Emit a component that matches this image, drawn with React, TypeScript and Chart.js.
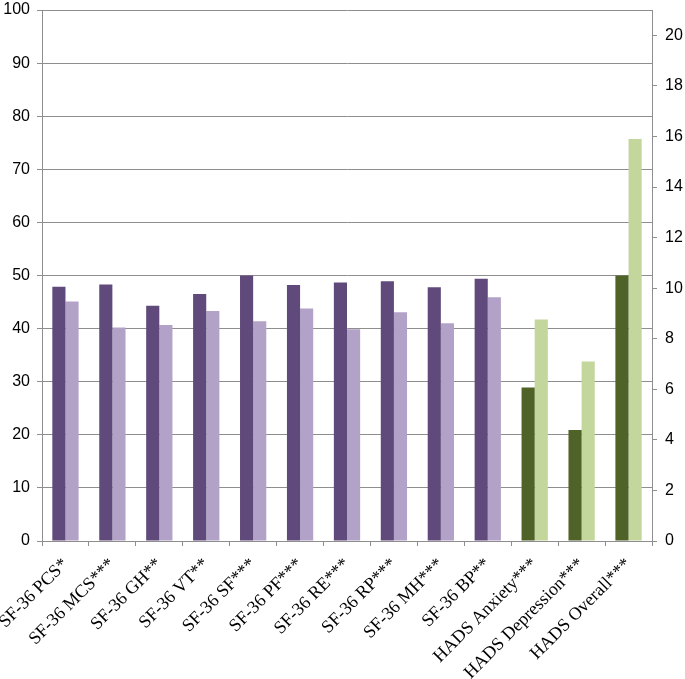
import React, { useEffect, useRef } from "react";
import { Chart, registerables } from "chart.js";

Chart.register(...registerables);

const categories = [
  "SF-36 PCS*",
  "SF-36 MCS***",
  "SF-36 GH**",
  "SF-36 VT**",
  "SF-36 SF***",
  "SF-36 PF***",
  "SF-36 RE***",
  "SF-36 RP***",
  "SF-36 MH***",
  "SF-36 BP**",
  "HADS Anxiety***",
  "HADS Depression***",
  "HADS Overall***",
];

const sfDark = [47.9, 48.3, 44.3, 46.5, 50.0, 48.2, 48.7, 48.9, 47.8, 49.4, null, null, null];
const sfLight = [45.1, 40.2, 40.7, 43.3, 41.4, 43.8, 39.9, 43.1, 41.0, 45.9, null, null, null];
const hadsDark = [null, null, null, null, null, null, null, null, null, null, 6.07, 4.39, 10.5];
const hadsLight = [null, null, null, null, null, null, null, null, null, null, 8.76, 7.1, 15.9];

const leftTicks = [0, 10, 20, 30, 40, 50, 60, 70, 80, 90, 100];
const rightTicks = [0, 2, 4, 6, 8, 10, 12, 14, 16, 18, 20];

export default function App() {
  const ref = useRef<HTMLCanvasElement>(null);
  useEffect(() => {
    document.body.style.margin = "0";
    const grid = "#8e8e8e";
    const chart = new Chart(ref.current!, {
      type: "bar",
      data: {
        labels: categories,
        datasets: [
          { data: sfDark, backgroundColor: "#604a7b", yAxisID: "y" },
          { data: sfLight, backgroundColor: "#b3a2c7", yAxisID: "y" },
          { data: hadsDark, backgroundColor: "#4f6228", yAxisID: "y2" },
          { data: hadsLight, backgroundColor: "#c3d69b", yAxisID: "y2" },
        ],
      },
      options: {
        animation: false,
        responsive: false,
        skipNull: true,
        categoryPercentage: 0.56,
        barPercentage: 1,
        layout: { padding: { top: 0, left: 0, right: 1, bottom: 0 } },
        plugins: { legend: { display: false }, tooltip: { enabled: false } },
        scales: {
          x: {
            offset: true,
            afterFit: (s: any) => {
              s.paddingLeft = 0;
              s.paddingRight = 0;
              s.height = 138;
            },
            grid: {
              offset: true,
              drawOnChartArea: false,
              drawTicks: true,
              tickLength: 5,
              color: grid,
            },
            border: { color: grid },
            ticks: {
              minRotation: 45,
              maxRotation: 45,
              color: "#000",
              padding: 8,
              font: { family: "Liberation Serif", size: 18 },
            },
          },
          y: {
            position: "left",
            min: 0,
            max: 100,
            afterBuildTicks: (s: any) => {
              s.ticks = leftTicks.map((v) => ({ value: v }));
            },
            afterFit: (s: any) => {
              s.width = 42;
              s.paddingTop = 10;
            },
            grid: { color: grid, tickLength: 5 },
            border: { color: grid },
            ticks: {
              color: "#000",
              padding: 7,
              font: { family: "Liberation Sans", size: 16 },
            },
          },
          y2: {
            position: "right",
            min: 0,
            max: 21,
            afterBuildTicks: (s: any) => {
              s.ticks = rightTicks.map((v) => ({ value: v }));
            },
            afterFit: (s: any) => {
              s.width = 32;
              s.paddingTop = 10;
            },
            grid: { drawOnChartArea: false, color: grid, tickLength: 5 },
            border: { color: grid },
            ticks: {
              color: "#000",
              padding: 8,
              font: { family: "Liberation Sans", size: 16 },
            },
          },
        },
      } as any,
    });
    return () => chart.destroy();
  }, []);
  return (
    <div style={{ width: 685, height: 679 }}>
      <canvas ref={ref} width={685} height={679} style={{ display: "block" }} />
    </div>
  );
}
